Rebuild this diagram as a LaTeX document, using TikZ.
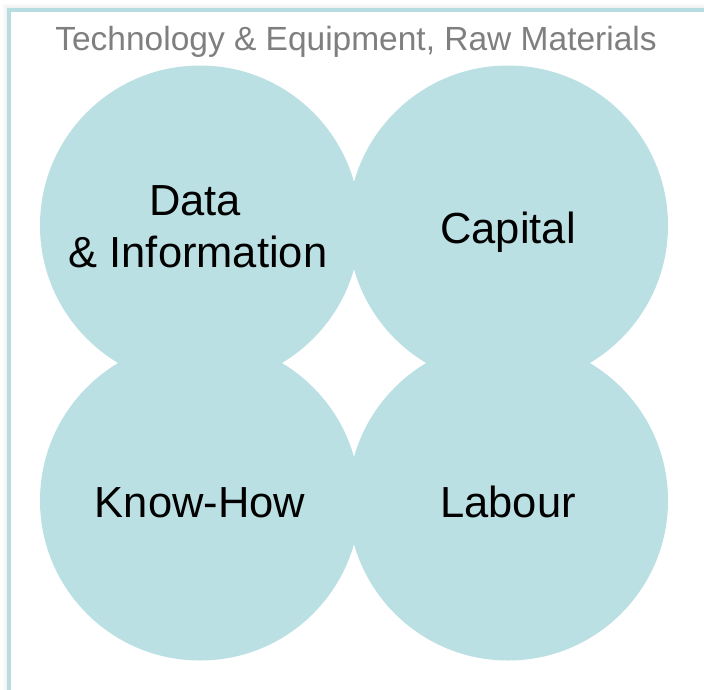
\documentclass[tikz,border=0pt]{standalone}
\usepackage{fontspec}
\setmainfont{Liberation Sans}
\definecolor{teal1}{HTML}{BBE0E3}
\definecolor{frame1}{HTML}{B7DDE1}
\definecolor{title1}{HTML}{7F7F7F}
\begin{document}
\begin{tikzpicture}[x=1pt,y=-1pt,
  blob/.style={circle,fill=teal1,minimum size=320pt,inner sep=0pt},
  lbl/.style={font=\fontsize{43.5}{52}\selectfont,text=black,align=center,inner sep=0pt,anchor=base},
  ttl/.style={font=\fontsize{33.5}{38}\selectfont,text=title1,inner sep=0pt,anchor=base}]
\useasboundingbox (0,0) rectangle (704,689);
\fill[white] (0,0) rectangle (704,689);
% soft shadow
\foreach \i/\o in {0/0.02,1/0.03,2/0.04,3/0.05,4/0.06}{
  \draw[black,opacity=\o,line width=1pt] (3+\i,700) -- (3+\i,4+\i) -- (710,4+\i);
}
\draw[frame1,line width=4pt] (9,720) -- (9,10) -- (720,10);
\node[blob] (tl) at (200,225.5) {};
\node[blob] (tr) at (508,225.5) {};
\node[blob] (bl) at (200,500.5) {};
\node[blob] (br) at (508,500.5) {};
\node[ttl] (title) at (356,50) {Technology \& Equipment, Raw Materials};
\node[lbl] (data) at (195,215) {Data};
\node[lbl] (info) at (198,267) {\& Information};
\node[lbl] (cap) at (508,243) {Capital};
\node[lbl] (know) at (200,517) {Know-How};
\node[lbl] (lab) at (508,517) {Labour};
\end{tikzpicture}
\end{document}
